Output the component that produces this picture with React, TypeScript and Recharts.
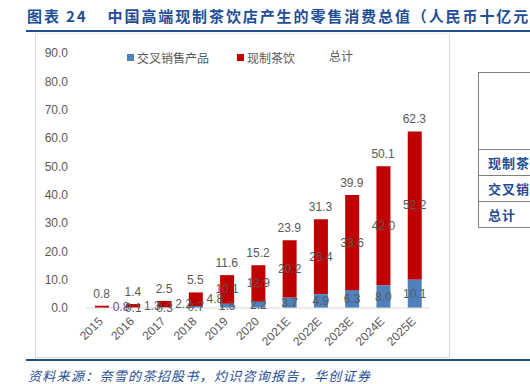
import React from "react";
import { ComposedChart, Bar, Line, XAxis, YAxis, LabelList } from "recharts";

const years = ["2015", "2016", "2017", "2018", "2019", "2020", "2021E", "2022E", "2023E", "2024E", "2025E"];
const crossSell = [0.0, 0.1, 0.3, 0.7, 1.5, 2.2, 3.7, 4.9, 6.3, 8.0, 10.1];
const freshTea = [0.8, 1.3, 2.2, 4.8, 10.1, 12.9, 20.2, 26.4, 33.6, 42.0, 52.2];
const totals = [0.8, 1.4, 2.5, 5.5, 11.6, 15.2, 23.9, 31.3, 39.9, 50.1, 62.3];
const yTicks = [0, 10, 20, 30, 40, 50, 60, 70, 80, 90];

const data = years.map((year, i) => ({
  year,
  cross: crossSell[i],
  tea: freshTea[i],
  total: totals[i],
}));

const BLUE = "#4F81BD";
const RED = "#C00000";
const TEXT = "#595959";
const NAVY = "#1F4E96";
const FONT = "'Liberation Sans', Arial, 'Noto Sans CJK SC', sans-serif";

function YearTick({ x, y, payload }: any) {
  return (
    <g transform={`translate(${x - 1},${y + 3})`}>
      <text
        textAnchor="end"
        fill={TEXT}
        fontSize={12}
        fontFamily={FONT}
        dy="0.35em"
        transform="rotate(-45)"
      >
        {payload.value}
      </text>
    </g>
  );
}

// small red segments get their label pushed to the right, like the original
function TeaLabel({ x, y, width, height, value }: any) {
  const shift = value < 5 ? 19 : 0;
  return (
    <text
      x={x + width / 2 + shift}
      y={y + height / 2}
      textAnchor="middle"
      dominantBaseline="central"
      fill={TEXT}
      fontSize={12}
      fontFamily={FONT}
    >
      {value.toFixed(1)}
    </text>
  );
}

function ChartLegend() {
  const item = { display: "inline-flex", alignItems: "center", marginRight: 28 } as const;
  const box = (c: string) => ({ width: 7, height: 7, background: c, marginRight: 3, display: "inline-block" });
  return (
    <div style={{ fontSize: 12, color: TEXT, fontFamily: FONT, whiteSpace: "nowrap" }}>
      <span style={item}>
        <span style={box(BLUE)} />
        交叉销售产品
      </span>
      <span style={item}>
        <span style={box(RED)} />
        现制茶饮
      </span>
      <span style={{ ...item, marginLeft: 6 }}>总计</span>
    </div>
  );
}

export default function App() {
  return (
    <div style={{ position: "absolute", left: 0, top: 0, width: 530, height: 384, background: "#fff", overflow: "hidden", fontFamily: FONT }}>
      <div
        style={{
          position: "absolute",
          left: 27,
          top: 5,
          fontSize: 15,
          fontWeight: 700,
          color: NAVY,
          fontFamily: "'Noto Sans CJK SC', sans-serif",
          whiteSpace: "nowrap",
          letterSpacing: 1.9,
        }}
      >
        图表 24<span style={{ marginLeft: 20 }}>中国高端现制茶饮店产生的零售消费总值（人民币十亿元）</span>
      </div>
      <div style={{ position: "absolute", left: 26, right: 0, top: 30, height: 2, background: NAVY }} />

      <div style={{ position: "absolute", left: 35, top: 33, width: 413, height: 323, border: "1px solid #d9d9d9", borderTop: "1px solid #eeeeee" }} />
      <div style={{ position: "absolute", left: 127, top: 47 }}>
        <ChartLegend />
      </div>

      <div style={{ position: "absolute", left: 35, top: 33 }}>
        <ComposedChart
          width={413}
          height={323}
          data={data}
          margin={{ top: 20, right: 18, bottom: 0, left: 0 }}
          barSize={14}
          barCategoryGap={0}
        >
          <XAxis
            dataKey="year"
            tick={<YearTick />}
            tickLine={false}
            axisLine={{ stroke: "#d9d9d9" }}
            interval={0}
            height={48}
          />
          <YAxis
            domain={[0, 90]}
            ticks={yTicks}
            tickFormatter={(v: number) => v.toFixed(1)}
            tick={{ fill: TEXT, fontSize: 12, fontFamily: FONT }}
            axisLine={false}
            tickLine={false}
            width={51}
            tickMargin={12}
          />
          <Bar dataKey="cross" stackId="a" fill={BLUE} isAnimationActive={false}>
            <LabelList
              dataKey="cross"
              position="center"
              formatter={(v: number) => v.toFixed(1)}
              style={{ fill: TEXT, fontSize: 12, fontFamily: FONT }}
            />
          </Bar>
          <Bar dataKey="tea" stackId="a" fill={RED} isAnimationActive={false}>
            <LabelList dataKey="tea" content={<TeaLabel />} />
          </Bar>
          <Line
            dataKey="total"
            stroke="none"
            dot={false}
            activeDot={false}
            isAnimationActive={false}
          >
            <LabelList
              dataKey="total"
              position="top"
              offset={8}
              formatter={(v: number) => v.toFixed(1)}
              style={{ fill: TEXT, fontSize: 12, fontFamily: FONT }}
            />
          </Line>
        </ComposedChart>
      </div>

      <div style={{ position: "absolute", left: 478, top: 72, width: 80, border: "1.5px solid #7f7f7f", borderRight: "none" }}>
        {["", "现制茶饮", "交叉销售产品", "总计"].map((t, i) => (
          <div
            key={i}
            style={{
              height: i === 0 ? 76 : 25,
              borderTop: i === 0 ? "none" : "1.5px solid #7f7f7f",
              fontSize: 13,
              fontWeight: 700,
              color: NAVY,
              fontFamily: "'Noto Sans CJK SC', sans-serif",
              lineHeight: "25px",
              paddingLeft: 9,
              whiteSpace: "nowrap",
              letterSpacing: 1,
            }}
          >
            {t}
          </div>
        ))}
      </div>

      <div style={{ position: "absolute", left: 26, right: 0, top: 359, height: 2, background: NAVY }} />
      <div
        style={{
          position: "absolute",
          left: 28,
          top: 366,
          fontSize: 13,
          fontStyle: "italic",
          color: NAVY,
          fontFamily: "'Noto Sans CJK SC', sans-serif",
          letterSpacing: 1.3,
          whiteSpace: "nowrap",
        }}
      >
        资料来源：奈雪的茶招股书，灼识咨询报告，华创证券
      </div>
    </div>
  );
}
